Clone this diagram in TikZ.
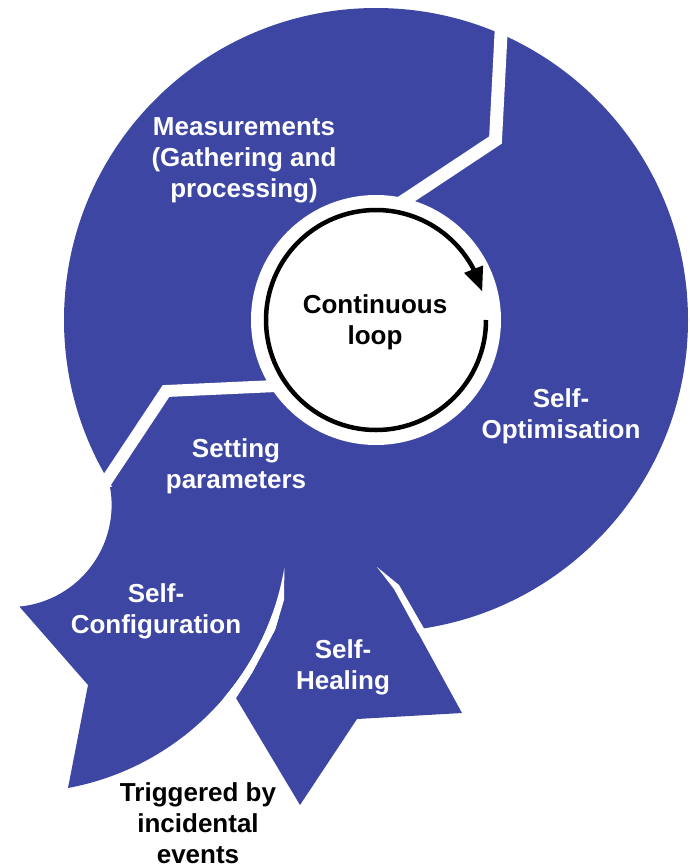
\documentclass[tikz,border=0pt]{standalone}
\usepackage{fontspec}
\setmainfont{Liberation Sans}
\usetikzlibrary{arrows.meta, bending}
\definecolor{loopblue}{RGB}{61,71,163}

\begin{document}
\begin{tikzpicture}[x=1pt, y=-1pt,
      every node/.style={font=\fontsize{26}{31}\selectfont\bfseries, align=center, inner sep=0pt},
        lbl/.style={text=white},
        cut/.style={draw=white, line width=13pt, miter limit=10},
        loop arrow/.style={line width=4.5pt, -{Triangle[length=24pt, width=19pt]}}
          ]
        \useasboundingbox (0,0) rectangle (690,868);
        \coordinate (c) at (376,320);

        % Big disk (Measurements, Setting parameters, Self-Optimisation)
        \fill[loopblue] (c) circle[radius=312];

        % Self-Configuration
        \fill[loopblue] (110,487) arc[start angle=-10.2, end angle=84.5, radius=102]
            -- (88,685) -- (68,788) arc[start angle=79.5, end angle=9.4, radius=269]
            -- (250,470) -- cycle;

        % Self-Healing
        \fill[loopblue] (285,560) -- (284,600) -- (275,630) -- (252,673) -- (236,698)
            -- (300,805) -- (357,719) -- (462,713) -- (394,589) -- (377,567) -- cycle;

        % White cuts between the parts
        \fill[white] (236,698) -- (252,673) -- (275,630) -- (284,600) -- (284.4,567.4)
            arc[start angle=9.4, end angle=40.5, radius=269] -- cycle;
        \fill[white] (377,567) -- (399,585) -- (426,632) -- (418,633) -- (394,589) -- cycle;
        \draw[cut] (502,15) -- (495.5,140) -- (390,210);
        \draw[cut, line width=12pt] (276,386) -- (166,391) -- (99,492);

        % Centre with the loop arrow
        \fill[white] (c) circle[radius=125];
        \draw[loop arrow] (486,320) arc[start angle=0, end angle=345, radius=110];

        % Labels
        \node[lbl] (meas) at (244,160) {Measurements\\(Gathering and\\processing)};
        \node (loop) at (375,322) {Continuous\\loop};
        \node[lbl] (opt) at (561,416) {Self-\\Optimisation};
        \node[lbl] (setp) at (236,466) {Setting\\parameters};
        \node[lbl] (conf) at (156,611) {Self-\\Configuration};
        \node[lbl] (heal) at (343,667) {Self-\\Healing};
        \node (trig) at (198,823) {Triggered by\\incidental\\events};

          \end{tikzpicture}
\end{document}
